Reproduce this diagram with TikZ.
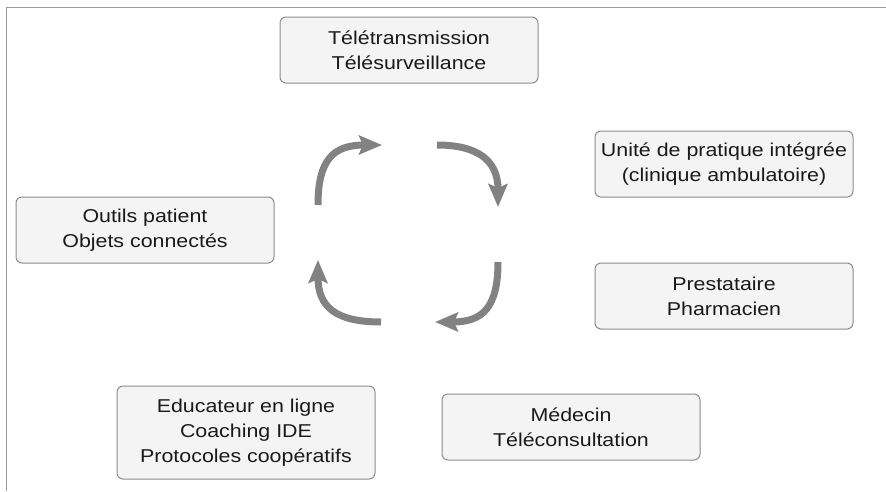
\documentclass[tikz,border=0pt]{standalone}
\usepackage{fontspec}
\setmainfont{Liberation Sans}[FakeStretch=1.15]
\usetikzlibrary{arrows.meta}
\definecolor{framegray}{HTML}{9A9A9A}
\definecolor{boxline}{HTML}{8C8C8C}
\definecolor{boxfill}{HTML}{F4F4F4}
\definecolor{cyclegray}{HTML}{828282}
\definecolor{textdark}{HTML}{1A1A1A}
\tikzset{
  roleBox/.style={draw=boxline, line width=1pt, fill=boxfill, rounded corners=6pt,
    minimum width=258pt, minimum height=66pt, inner sep=0pt, align=center,
    text=textdark, font=\fontsize{18.6}{25}\selectfont},
  cycleArrow/.style={draw=cyclegray, line width=7pt,
    -{Stealth[length=23pt,width=19pt,inset=4pt]}}
}
\begin{document}
\begin{tikzpicture}[x=1pt,y=-1pt]
  \useasboundingbox (0,0) rectangle (886,491);
  % outer frame: left and top edges only
  \draw[framegray, line width=1.5pt] (6.5,491) -- (6.5,7.5) -- (886,7.5);

  % actors around the cycle
  \node[roleBox] (tele) at (409,50) {Télétransmission\\Télésurveillance};
  \node[roleBox] (unite) at (724,164) {Unité de pratique intégrée\\(clinique ambulatoire)};
  \node[roleBox] (presta) at (724,296) {Prestataire\\Pharmacien};
  \node[roleBox] (outils) at (145,230) {Outils patient\\Objets connectés};
  \node[roleBox, minimum height=93pt] (educ) at (246,432.5) {Educateur en ligne\\Coaching IDE\\Protocoles coopératifs};
  \node[roleBox] (medecin) at (571,427) {Médecin\\Téléconsultation};

  % circular flow in the middle
  \coordinate (a1s) at (318,205); \coordinate (a1e) at (382,145);
  \coordinate (a2s) at (437,145); \coordinate (a2e) at (498,207);
  \coordinate (a3s) at (498,262); \coordinate (a3e) at (435,322);
  \coordinate (a4s) at (381,322); \coordinate (a4e) at (318,260);
  \draw[cycleArrow] (a1s) .. controls (318,160) and (333,145) .. (a1e);
  \draw[cycleArrow] (a2s) .. controls (477,145) and (498,160) .. (a2e);
  \draw[cycleArrow] (a3s) .. controls (498,307) and (483,322) .. (a3e);
  \draw[cycleArrow] (a4s) .. controls (336,322) and (318,307) .. (a4e);
\end{tikzpicture}
\end{document}
